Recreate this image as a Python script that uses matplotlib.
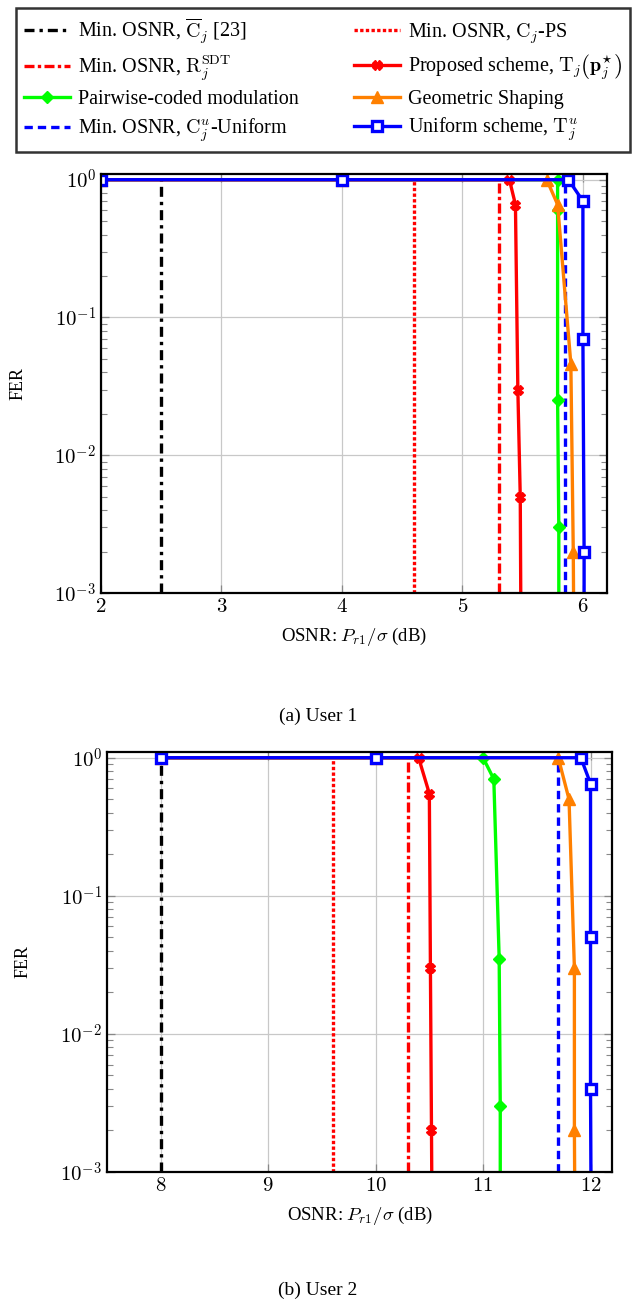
import numpy as np
import matplotlib
matplotlib.use("Agg")
import matplotlib.pyplot as plt
from matplotlib.ticker import FixedLocator, FixedFormatter, LogLocator, NullFormatter

plt.rcParams['font.family'] = ['Liberation Serif', 'DejaVu Serif']
plt.rcParams['mathtext.fontset'] = 'cm'

# ---- User 1 data ----
u1_min_cbar = 2.5
u1_min_ps = 4.6
u1_min_sdt = 5.3
u1_min_unif = 5.85
u1_prop_x = [2, 4, 5.39, 5.44, 5.46, 5.48, 5.49]
u1_prop_y = [1, 1, 1, 0.66, 0.03, 0.005, 1e-4]
u1_pcm_x = [2, 4, 5.79, 5.79, 5.79, 5.8, 5.8]
u1_pcm_y = [1, 1, 1, 0.6, 0.025, 0.003, 1e-4]
u1_gs_x = [2, 4, 5.7, 5.79, 5.9, 5.92, 5.93]
u1_gs_y = [1, 1, 1, 0.66, 0.046, 0.002, 1e-4]
u1_uni_x = [2, 4, 5.88, 6.0, 6.0, 6.01, 6.01]
u1_uni_y = [1, 1, 1, 0.7, 0.07, 0.002, 1e-4]

# ---- User 2 data ----
u2_min_cbar = 8.0
u2_min_ps = 9.6
u2_min_sdt = 10.3
u2_min_unif = 11.7
u2_prop_x = [8, 10, 10.4, 10.5, 10.51, 10.52, 10.53]
u2_prop_y = [1, 1, 1, 0.55, 0.03, 0.002, 1e-4]
u2_pcm_x = [8, 10, 11.0, 11.1, 11.15, 11.16, 11.16]
u2_pcm_y = [1, 1, 1, 0.7, 0.035, 0.003, 1e-4]
u2_gs_x = [8, 10, 11.7, 11.8, 11.85, 11.85, 11.86]
u2_gs_y = [1, 1, 1, 0.5, 0.03, 0.002, 1e-4]
u2_uni_x = [8, 10, 11.91, 12.0, 12.0, 12.0, 12.01]
u2_uni_y = [1, 1, 1, 0.65, 0.05, 0.004, 1e-4]

labels = [r'Min. OSNR, $\overline{\mathrm{C}}_j$ [23]',
          r'Min. OSNR, $\mathrm{R}_j^{\mathrm{SDT}}$',
          'Pairwise-coded modulation',
          r'Min. OSNR, $\mathrm{C}_j^u$-Uniform',
          r'Min. OSNR, $\mathrm{C}_j$-PS',
          r'Proposed scheme, $\mathrm{T}_j\left(\mathbf{p}_j^{\star}\right)$',
          'Geometric Shaping',
          r'Uniform scheme, $\mathrm{T}_j^u$']

RED = (1, 0, 0)
GREEN = (0, 1, 0)
ORANGE = (1, 0.5, 0)
BLUE = (0, 0, 1)
LW = 2.4

W, H = 636, 1310
fig = plt.figure(figsize=(W / 100, H / 100), dpi=100)


def make_axes(l, r, t, b):
    return fig.add_axes([l / W, 1 - b / H, (r - l) / W, (b - t) / H])


def draw(ax, cbar, ps, sdt, unif, px, py, gx, gy, ox, oy, ux, uy, xlim, xticks):
    ymin, ymax = 1e-3, 1
    h = {}
    h['cbar'], = ax.plot([cbar, cbar], [ymin, ymax], color='k', lw=LW, ls=(0, (3, 1.5, 1, 1.5)))
    h['sdt'], = ax.plot([sdt, sdt], [ymin, ymax], color=RED, lw=LW, ls=(0, (3, 1, 1, 1)))
    h['ps'], = ax.plot([ps, ps], [ymin, ymax], color=RED, lw=LW, ls=(0, (1, 0.7)))
    h['unif'], = ax.plot([unif, unif], [ymin, ymax], color=BLUE, lw=LW, ls=(0, (2.5, 1.5)))
    h['pcm'], = ax.plot(gx, gy, color=GREEN, lw=LW, marker='D', ms=6, mfc=GREEN, mec=GREEN)
    h['gs'], = ax.plot(ox, oy, color=ORANGE, lw=LW, marker='^', ms=9, mfc=ORANGE, mec=ORANGE)
    h['prop'], = ax.plot(px, py, color=RED, lw=LW, marker='X', ms=7, mfc=RED, mec=RED)
    h['uni'], = ax.plot(ux, uy, color=BLUE, lw=LW, marker='s', ms=7.5, mfc='white', mec=BLUE, mew=2.4)
    ax.set_yscale('log')
    ax.set_xlim(*xlim)
    ax.set_ylim(1e-3, 1.1)
    ax.xaxis.set_major_locator(FixedLocator(xticks))
    ax.xaxis.set_major_formatter(FixedFormatter(['$%d$' % t for t in xticks]))
    ax.yaxis.set_major_locator(FixedLocator([1e-3, 1e-2, 1e-1, 1]))
    ax.yaxis.set_major_formatter(FixedFormatter([r'$10^{-3}$', r'$10^{-2}$', r'$10^{-1}$', r'$10^{0}$']))
    ax.yaxis.set_minor_locator(LogLocator(base=10, subs=np.arange(2, 10)))
    ax.yaxis.set_minor_formatter(NullFormatter())
    ax.grid(True, which='major', color='#c8c8c8', lw=0.9)
    ax.tick_params(which='both', direction='in', top=True, right=True, labelsize=15, colors='#888888',
                   labelcolor='k')
    ax.tick_params(which='major', length=6, width=0.9)
    ax.tick_params(which='minor', length=4, width=0.8)
    for s in ax.spines.values():
        s.set_linewidth(1.6)
    ax.set_ylabel('FER', fontsize=13)
    ax.set_xlabel(r'OSNR: $P_{r1}/\sigma$ (dB)', fontsize=13.5, labelpad=6)
    return h


ax1 = make_axes(101, 607, 174, 593)
h = draw(ax1, u1_min_cbar, u1_min_ps, u1_min_sdt, u1_min_unif,
         u1_prop_x, u1_prop_y, u1_pcm_x, u1_pcm_y, u1_gs_x, u1_gs_y, u1_uni_x, u1_uni_y,
         (2, 6.2), [2, 3, 4, 5, 6])
ax1.yaxis.set_label_coords(-0.148, 0.5)

ax2 = make_axes(107, 612, 752, 1172)
draw(ax2, u2_min_cbar, u2_min_ps, u2_min_sdt, u2_min_unif,
     u2_prop_x, u2_prop_y, u2_pcm_x, u2_pcm_y, u2_gs_x, u2_gs_y, u2_uni_x, u2_uni_y,
     (7.5, 12.2), [8, 9, 10, 11, 12])
ax2.yaxis.set_label_coords(-0.15, 0.5)

fig.text(318 / W, 1 - 716 / H, '(a) User 1', ha='center', va='center', fontsize=14)
fig.text(318 / W, 1 - 1290 / H, '(b) User 2', ha='center', va='center', fontsize=14)

order = ['cbar', 'sdt', 'pcm', 'unif', 'ps', 'prop', 'gs', 'uni']
leg = fig.legend([h[k] for k in order], labels, ncol=2, loc='upper left', mode='expand',
                 bbox_to_anchor=(16 / W, 1 - 8 / H, 614 / W, 0), fontsize=14.5, frameon=True,
                 fancybox=False, edgecolor='k', handlelength=2.3, columnspacing=0.3,
                 handletextpad=0.4, labelspacing=0.36, borderpad=0.4, borderaxespad=0)
leg.get_frame().set_linewidth(1.8)

fig.savefig('out.png', dpi=100)
